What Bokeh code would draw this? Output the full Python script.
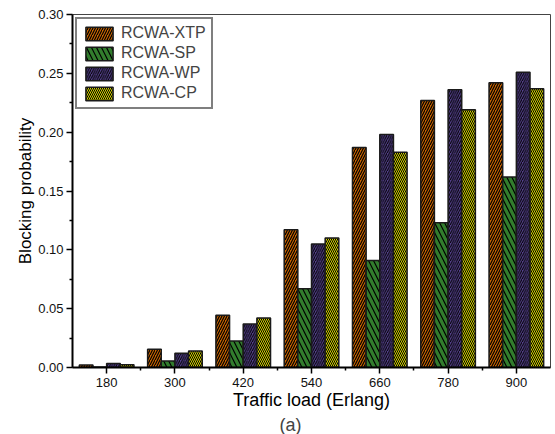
from bokeh.plotting import figure
from bokeh.models import ColumnDataSource, FixedTicker, Range1d, Legend, LegendItem, Title, NumeralTickFormatter
from bokeh.transform import dodge
from bokeh.embed import file_html
from bokeh.resources import INLINE

loads = ["180", "300", "420", "540", "660", "780", "900"]
xtp = [0.0022, 0.0155, 0.0445, 0.117, 0.187, 0.227, 0.242]
sp = [0.0005, 0.0055, 0.0225, 0.067, 0.091, 0.123, 0.162]
wp = [0.0035, 0.0122, 0.037, 0.105, 0.198, 0.236, 0.251]
cp = [0.0024, 0.0141, 0.042, 0.110, 0.183, 0.219, 0.237]

series = [
    ("RCWA-XTP", "#C86400", "/", 5, 1.2, -0.3),
    ("RCWA-SP", "#327D2D", "\\", 10, 1.2, -0.1),
    ("RCWA-WP", "#55418C", "/", 4.5, 1.0, 0.1),
    ("RCWA-CP", "#D2D200", "\\", 4, 1.0, 0.3),
]

xs = list(range(1, len(loads) + 1))
src = ColumnDataSource(dict(x=xs, xtp=xtp, sp=sp, wp=wp, cp=cp))

p = figure(width=553, height=434, output_backend="svg", toolbar_location=None,
           x_range=Range1d(0.5, 7.5), y_range=Range1d(0, 0.30))
p.min_border_left = 72
p.min_border_top = 14
p.min_border_right = 3
p.min_border_bottom = 10
p.background_fill_color = "white"
p.border_fill_color = "white"
p.grid.visible = False
p.outline_line_color = "#444444"
p.outline_line_width = 1

cols = ["xtp", "sp", "wp", "cp"]
items = []
for (name, color, hatch, scale, weight, off), col in zip(series, cols):
    r = p.vbar(x=dodge("x", off), top=col, width=0.2, source=src,
               fill_color=color, line_color="#1a1a1a", line_width=1.5,
               hatch_pattern=hatch, hatch_color="black", hatch_scale=scale,
               hatch_weight=weight)
    items.append(LegendItem(label=name, renderers=[r]))

legend = Legend(items=items, location="top_left")
legend.border_line_color = "black"
legend.border_line_dash = "dashed"
legend.border_line_width = 2
legend.background_fill_alpha = 1
legend.label_text_font = "Liberation Sans"
legend.label_text_font_size = "16px"
legend.glyph_width = 34
legend.glyph_height = 17
legend.label_height = 17
legend.spacing = 2
legend.padding = 5
legend.margin = 3
legend.label_standoff = 5
p.add_layout(legend)

# axes
p.xaxis.ticker = FixedTicker(ticks=xs, minor_ticks=[1.5, 2.5, 3.5, 4.5, 5.5, 6.5])
p.xaxis.major_label_overrides = {i: l for i, l in zip(xs, loads)}
p.yaxis.ticker = FixedTicker(ticks=[0, 0.05, 0.10, 0.15, 0.20, 0.25, 0.30],
                             minor_ticks=[0.025, 0.075, 0.125, 0.175, 0.225, 0.275])
p.yaxis.formatter = NumeralTickFormatter(format="0.00")

for ax in (p.xaxis, p.yaxis):
    ax.axis_line_width = 2
    ax.axis_line_color = "black"
    ax.major_tick_line_width = 1.5
    ax.minor_tick_line_width = 1.5
    ax.major_tick_in = 0
    ax.major_tick_out = 6
    ax.minor_tick_in = 0
    ax.minor_tick_out = 3
    ax.major_label_text_font = "Liberation Sans"
    ax.major_label_text_font_size = "13px"
    ax.major_label_text_color = "#111111"
    ax.axis_label_text_font = "Liberation Sans"
    ax.axis_label_text_font_style = "normal"
    ax.axis_label_text_color = "black"

p.xaxis.major_label_standoff = 4
p.yaxis.major_label_standoff = 3
p.xaxis.axis_label = "Traffic load (Erlang)"
p.xaxis.axis_label_text_font_size = "18px"
p.xaxis.axis_label_standoff = 0
p.yaxis.axis_label = "Blocking probability"
p.yaxis.axis_label_text_font_size = "17px"
p.yaxis.axis_label_standoff = 0

t = Title(text="(a)", align="left", text_font="Liberation Sans",
          text_font_size="18px", text_font_style="normal", offset=207,
          standoff=0)
p.add_layout(t, "below")

open("out.html", "w").write(file_html(p, INLINE))
